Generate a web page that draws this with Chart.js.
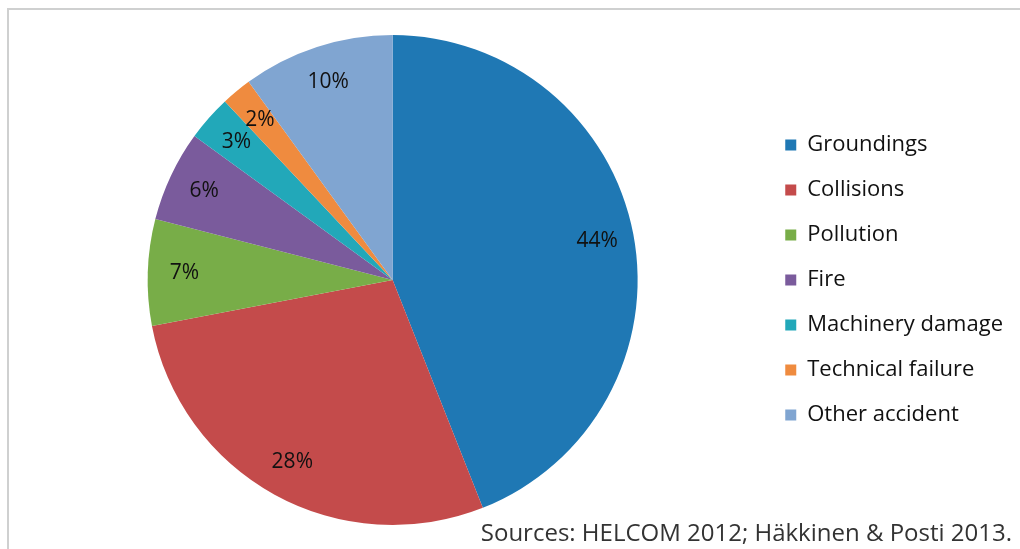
<!DOCTYPE html>
<html>
<head>
<meta charset="utf-8">
<script src="https://cdn.jsdelivr.net/npm/chart.js@4.4.1/dist/chart.umd.min.js"></script>
<style>
  html, body { margin: 0; padding: 0; background: #fff; }
  #wrap { position: relative; width: 1020px; height: 549px; overflow: hidden; }
  #frame { position: absolute; left: 7px; top: 8px; width: 1100px; height: 600px;
           border-left: 2px solid #cfd0d0; border-top: 2px solid #cfd0d0; }
  #box { position: absolute; left: 0; top: 0; width: 1020px; height: 549px; }
  #source { position: absolute; right: 8px; bottom: 1px; font-family: "Open Sans", sans-serif;
            font-size: 24px; color: #333; background: #fff; padding-left: 4px; line-height: 32px; }
</style>
</head>
<body>
<div id="wrap">
  <div id="frame"></div>
  <div id="box"><canvas id="pieChart"></canvas></div>
  <div id="source">Sources: HELCOM 2012; Häkkinen &amp; Posti 2013.</div>
</div>
<script>
// accident types and their shares (%)
const categories = ['Groundings', 'Collisions', 'Pollution', 'Fire', 'Machinery damage', 'Technical failure', 'Other accident'];
const shares = [44, 28, 7, 6, 3, 2, 10];
const sliceColors = ['#1f78b4', '#c44b4b', '#78ad48', '#7a5b9c', '#22a8b9', '#ef8b3f', '#80a5d1'];

// draws the "44%" style labels inside each slice
const pctLabels = {
  id: 'pctLabels',
  afterDatasetsDraw(chart) {
    const ctx = chart.ctx;
    const meta = chart.getDatasetMeta(0);
    ctx.save();
    ctx.font = '21px "Open Sans", sans-serif';
    ctx.fillStyle = '#111';
    ctx.textAlign = 'center';
    ctx.textBaseline = 'middle';
    meta.data.forEach((arc, i) => {
      const mid = (arc.startAngle + arc.endAngle) / 2;
      const r = arc.outerRadius * 0.85;
      const x = arc.x + Math.cos(mid) * r;
      const y = arc.y + Math.sin(mid) * r;
      ctx.fillText(shares[i] + '%', x, y);
    });
    ctx.restore();
  }
};

new Chart(document.getElementById('pieChart'), {
  type: 'pie',
  data: {
    labels: categories,
    datasets: [{
      data: shares,
      backgroundColor: sliceColors,
      borderWidth: 0
    }]
  },
  options: {
    responsive: true,
    maintainAspectRatio: false,
    animation: false,
    layout: { padding: { left: 23, top: 35, bottom: 24, right: 7 } },
    plugins: {
      tooltip: { enabled: false },
      legend: {
        position: 'right',
        labels: {
          boxWidth: 11,
          boxHeight: 11,
          padding: 23,
          color: '#111',
          font: { family: '"Open Sans", sans-serif', size: 22 }
        }
      }
    }
  },
  plugins: [pctLabels]
});
</script>
</body>
</html>
